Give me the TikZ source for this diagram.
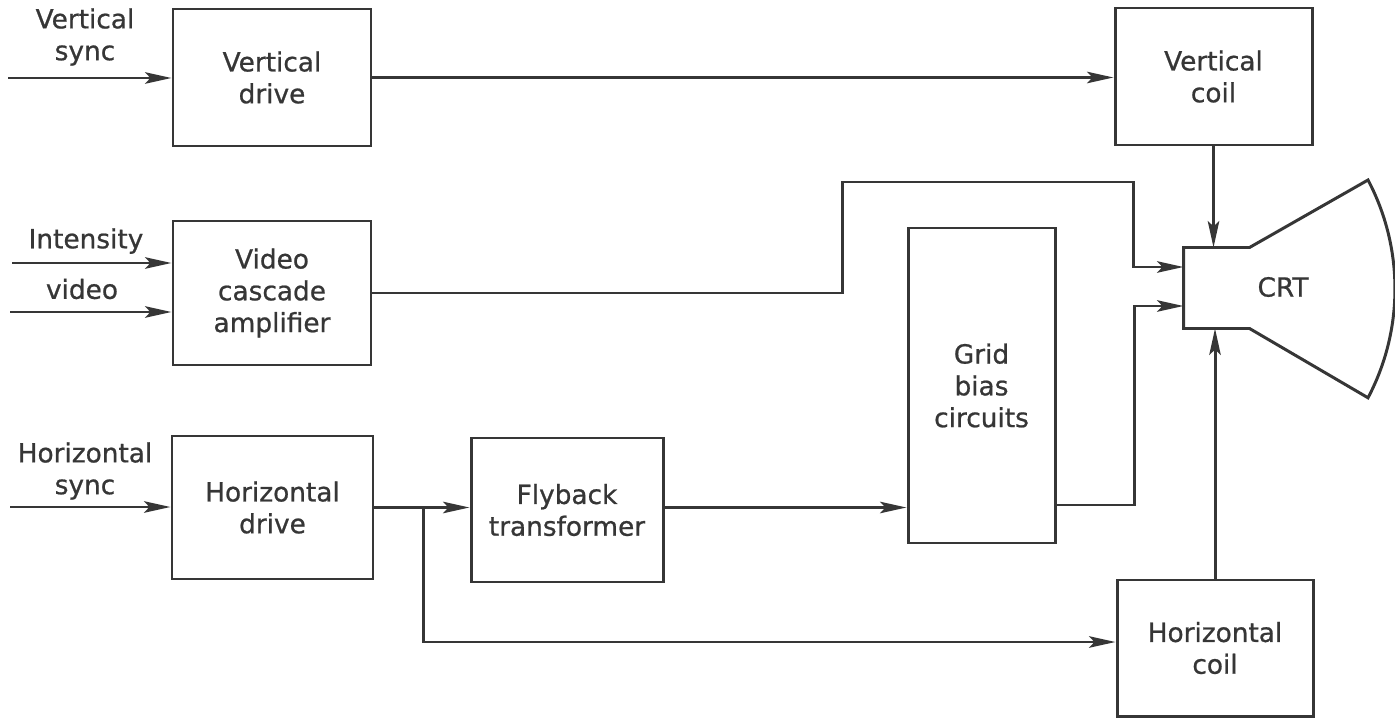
\documentclass[tikz,border=0pt]{standalone}
\usepackage{fontspec}
\setmainfont[FakeBold=0.8]{DejaVu Sans}
\usepackage{tikz}
\usetikzlibrary{arrows.meta}
\newdimen\unitsize
\setlength{\unitsize}{0.02cm}
\definecolor{ink}{HTML}{363636}

\begin{document}
\begin{tikzpicture}[x=\unitsize,y=-\unitsize,line width=1.7pt,color=ink,font=\fontsize{15}{18.1}\selectfont]
\tikzset{block/.style={draw, align=center, inner sep=0pt}}%
\tikzset{sig/.style={-{Stealth[length=15pt,width=6.5pt,inset=3pt]}}}%
\tikzset{lbl/.style={align=center, inner sep=0pt}}%
\useasboundingbox (0,0) rectangle (1395,719);
\node[block, minimum width=198\unitsize, minimum height=137\unitsize] (vdrive) at (272,77.5) {Vertical\\drive};
\node[block, minimum width=197\unitsize, minimum height=137\unitsize] (vcoil) at (1213.5,76.5) {Vertical\\coil};
\node[block, minimum width=198\unitsize, minimum height=144\unitsize] (video) at (272,293) {Video\\cascade\\amplifier};
\node[block, minimum width=147\unitsize, minimum height=315\unitsize] (grid) at (981.5,385.5) {Grid\\bias\\circuits};
\node[block, minimum width=201\unitsize, minimum height=143\unitsize] (hdrive) at (272.5,507.5) {Horizontal\\drive};
\node[block, minimum width=192\unitsize, minimum height=144\unitsize] (flyback) at (567,510) {Flyback\\transformer};
\node[block, minimum width=196\unitsize, minimum height=136\unitsize] (hcoil) at (1215,648) {Horizontal\\coil};
\node[inner sep=0pt, minimum width=63\unitsize, minimum height=78\unitsize] (neck) at (1216.5,288) {};
\node (crt) at (1283,287) {CRT};
\draw (neck.north east) -- (1368,180) arc[start angle=27.8, end angle=-27.8, radius=233.5\unitsize]
  -- (neck.south east) -- (neck.south west) -- (neck.north west) -- cycle;
\node[lbl] (vsynclbl) at (85,37) {Vertical\\sync};
\node[lbl] (intlbl) at (86,241) {Intensity};
\node[lbl] (vidlbl) at (82,289) {video};
\node[lbl] (hsynclbl) at (85,471) {Horizontal\\sync};
\coordinate (vsync) at (8,78);
\coordinate (intin) at (12,263);
\coordinate (vidin) at (10,312);
\coordinate (hsync) at (10,507);
\draw[sig] (vsync) -- (vsync -| vdrive.west);
\draw[sig] (intin) -- (intin -| video.west);
\draw[sig] (vidin) -- (vidin -| video.west);
\draw[sig] (hsync) -- (hsync -| hdrive.west);
\draw[sig] (vdrive.east) -- (vdrive.east -| vcoil.west);
\draw[sig] (video.east) -- (video.east -| 842,0) -- (842,182) -- (1133,182) -- (1133,267) -- (neck.west |- 0,267);
\draw[sig] (hdrive.east) -- (hdrive.east -| flyback.west);
\draw[sig] (hdrive.east -| flyback.east) -- (hdrive.east -| grid.west);
\draw[sig] (hdrive.east -| 423,0) -- (423,642) -- (hcoil.west |- 0,642);
\draw[sig] (grid.east |- 0,505) -- (1134,505) -- (1134,306) -- (neck.west |- 0,306);
\draw[sig] (vcoil.south) -- (vcoil.south |- neck.north);
\draw[sig] (hcoil.north) -- (hcoil.north |- neck.south);
\end{tikzpicture}
\end{document}
